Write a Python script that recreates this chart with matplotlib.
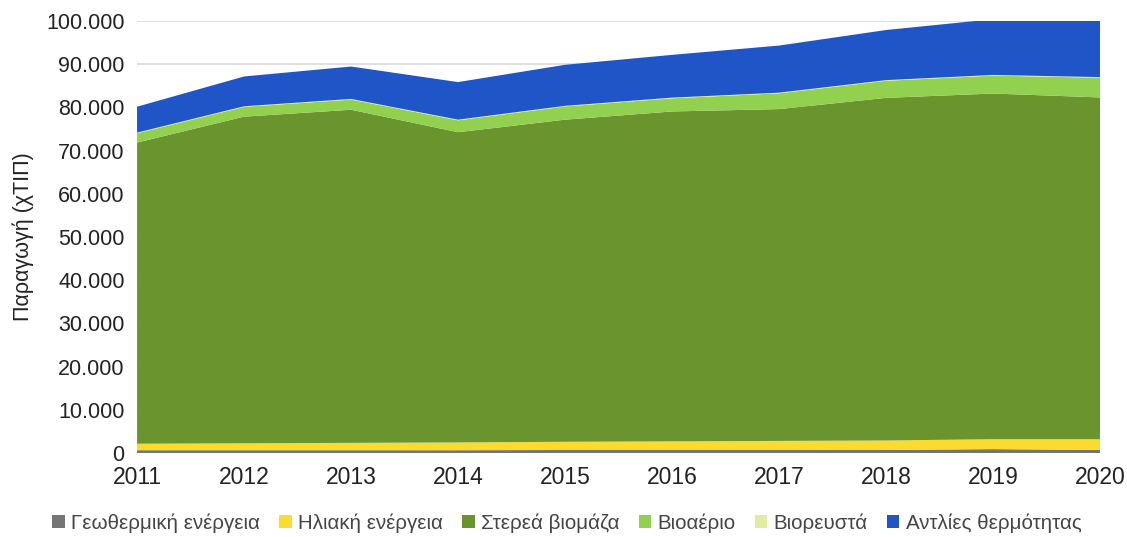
import numpy as np
import matplotlib.pyplot as plt
from matplotlib.ticker import FuncFormatter

plt.rcParams['font.family'] = ['Liberation Sans', 'DejaVu Sans']

# Data (ktoe)
years = [2011, 2012, 2013, 2014, 2015, 2016, 2017, 2018, 2019, 2020]
geothermal = [650, 650, 650, 650, 700, 700, 700, 700, 900, 700]
solar = [1500, 1600, 1700, 1800, 1900, 2000, 2100, 2200, 2300, 2500]
solid_biomass = [69700, 75600, 77100, 71800, 74550, 76350, 76800, 79300, 80000, 79100]
biogas = [2150, 2250, 2350, 2750, 3050, 3050, 3650, 3950, 4150, 4550]
bioliquids = [150, 150, 150, 150, 150, 150, 150, 150, 150, 150]
heat_pumps = [6000, 6900, 7500, 8700, 9500, 9900, 10900, 11600, 12900, 15500]

labels = ['Γεωθερμική ενέργεια', 'Ηλιακή ενέργεια', 'Στερεά βιομάζα',
          'Βιοαέριο', 'Βιορευστά', 'Αντλίες θερμότητας']
colors = ['#757575', '#fbdb30', '#6a952e', '#92d050', '#e3ec9a', '#1f55c6']

fig = plt.figure(figsize=(11.27, 5.37), dpi=100)
ax = fig.add_axes([0.1216, 0.1564, 0.8545, 0.8046])

ax.stackplot(years, geothermal, solar, solid_biomass, biogas, bioliquids,
             heat_pumps, labels=labels, colors=colors, linewidth=0)

ax.set_xlim(2011, 2020)
ax.set_ylim(0, 100000)
ax.set_yticks(np.arange(0, 100001, 10000))
ax.set_xticks(years)
ax.yaxis.set_major_formatter(FuncFormatter(lambda v, p: f'{int(v):,}'.replace(',', '.')))
ax.grid(axis='y', color='#d9d9d9', linewidth=1.2)
ax.set_axisbelow(True)
for s in ax.spines.values():
    s.set_visible(False)
ax.tick_params(axis='both', length=0, colors='#222222')
ax.tick_params(axis='x', pad=9, labelsize=16.5)
ax.tick_params(axis='y', pad=9, labelsize=15.5)
ax.set_ylabel('Παραγωγή (χΤΙΠ)', fontsize=15.5, color='#222222', labelpad=9)

leg = fig.legend(loc='center', bbox_to_anchor=(0.503, 0.026), ncol=6,
                 frameon=False, fontsize=14.8, handlelength=0.6, handleheight=0.6,
                 handletextpad=0.3, columnspacing=0.95, labelcolor='#444444')

fig.savefig('out.png', dpi=100)
